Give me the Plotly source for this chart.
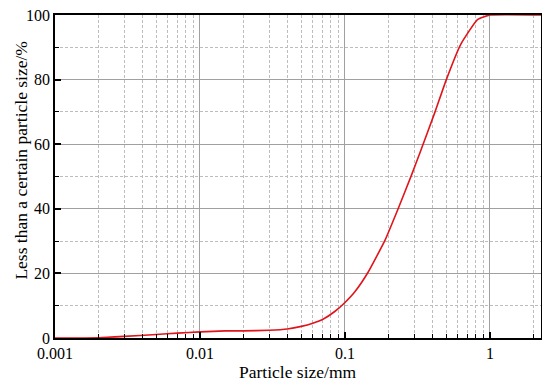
import plotly.graph_objects as go

size_mm = [0.001, 0.002, 0.003, 0.005, 0.007, 0.01, 0.015, 0.02, 0.03, 0.04, 0.05,
           0.06, 0.071, 0.085, 0.1, 0.117, 0.145, 0.189, 0.233, 0.288, 0.33, 0.418,
           0.5, 0.63, 0.82, 1.0, 2.25]
passing = [0.0, 0.1, 0.5, 1.1, 1.5, 1.9, 2.2, 2.2, 2.4, 2.8, 3.6,
           4.6, 5.9, 8.2, 11.0, 14.3, 20.5, 30.3, 40.1, 50.5, 57.5, 70.0,
           80.0, 91.0, 98.6, 100.0, 100.0]

x_tickvals = [0.001, 0.01, 0.1, 1]
x_ticktext = ["0.001", "0.01", "0.1", "1"]
y_tickvals = [0, 20, 40, 60, 80, 100]
x_title = "Particle size/mm"
y_title = "Less than a certain particle size/%"

font = "Liberation Serif"

fig = go.Figure()
fig.add_trace(go.Scatter(x=size_mm, y=passing, mode="lines",
                         line=dict(color="#e0141b", width=1.6, shape="spline", smoothing=0.4),
                         showlegend=False))

fig.update_layout(
    width=542, height=380,
    margin=dict(l=47, r=9, t=7, b=50),
    paper_bgcolor="white", plot_bgcolor="white",
    font=dict(family=font, size=15, color="black"),
    annotations=[
        dict(text=x_title, xref="paper", yref="paper", x=0.5, y=-0.105,
             xanchor="center", yanchor="middle", showarrow=False,
             font=dict(size=17.5, family=font, color="black")),
        dict(text=y_title, xref="paper", yref="paper", x=-0.0955, y=0.551,
             xanchor="left", yanchor="middle", showarrow=False, textangle=-90,
             font=dict(size=17.5, family=font, color="black")),
    ],
)
fig.update_xaxes(
    type="log", range=[-3, 0.352], automargin=False,
    tickvals=x_tickvals, ticktext=x_ticktext,
    ticks="inside", ticklen=6, tickwidth=1.5, tickcolor="black",
    showline=True, linecolor="black", linewidth=1.5, mirror=True,
    showgrid=True, gridcolor="#a0a0a0", gridwidth=1,
    minor=dict(dtick="D1", ticks="inside", ticklen=4, tickwidth=1, tickcolor="black",
               showgrid=True, gridcolor="#bdbdbd", griddash="3px,2px", gridwidth=1),
    tickfont=dict(size=16, family=font),
    ticklabeloverflow="allow",
    zeroline=False,
)
fig.update_yaxes(
    range=[0, 100], tickvals=y_tickvals, automargin=False,
    ticks="inside", ticklen=6, tickwidth=1.5, tickcolor="black",
    showline=True, linecolor="black", linewidth=1.5, mirror=True,
    showgrid=True, gridcolor="#a0a0a0", gridwidth=1,
    minor=dict(dtick=10, ticks="inside", ticklen=4, tickwidth=1, tickcolor="black",
               showgrid=True, gridcolor="#bdbdbd", griddash="3px,2px", gridwidth=1),
    tickfont=dict(size=16, family=font),
    ticklabeloverflow="allow",
    zeroline=False,
)
fig.write_html("out.html")
